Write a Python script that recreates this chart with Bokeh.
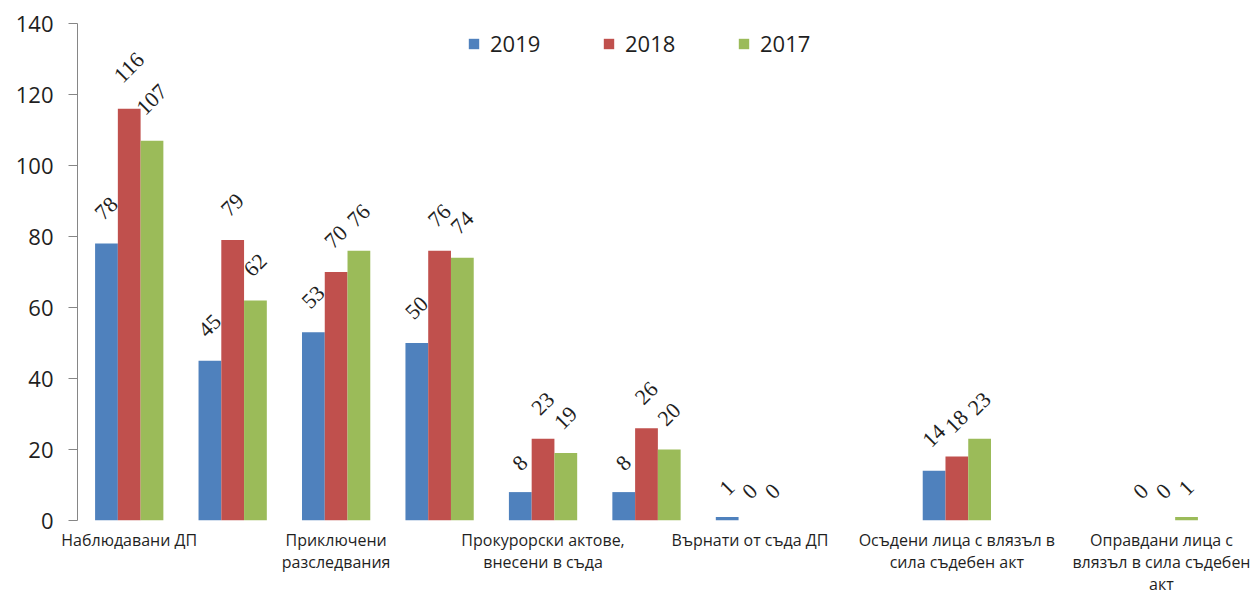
import math
import numpy as np
from bokeh.plotting import figure
from bokeh.models import ColumnDataSource, LabelSet, FixedTicker, Legend, LegendItem
from bokeh.transform import dodge
from bokeh.embed import file_html
from bokeh.resources import INLINE

# ---------------- data ----------------
categories = [
    "Наблюдавани ДП",
    "",
    "Приключени\nразследвания",
    "",
    "Прокурорски актове,\nвнесени в съда",
    "",
    "Върнати от съда ДП",
    "",
    "Осъдени лица с влязъл в\nсила съдебен акт",
    "",
    "Оправдани лица с\nвлязъл в сила съдебен\nакт",
]
series_names = ["2019", "2018", "2017"]
values_2019 = [78, 45, 53, 50, 8, 8, 1, None, 14, None, 0]
values_2018 = [116, 79, 70, 76, 23, 26, 0, None, 18, None, 0]
values_2017 = [107, 62, 76, 74, 19, 20, 0, None, 23, None, 1]
y_ticks = [0, 20, 40, 60, 80, 100, 120, 140]

colors = ["#4F81BD", "#C0504D", "#9BBB59"]
offsets = [-0.22, 0.0, 0.22]
bar_width = 0.22
FONT = "Open Sans"
TEXT_COLOR = "#1f1f1f"

p = figure(
    width=1250, height=597,
    x_range=(-0.5, len(categories) - 0.5), y_range=(0, 140),
    output_backend="svg", toolbar_location=None,
    min_border_left=77, min_border_top=23, min_border_right=35, min_border_bottom=72,
)
p.outline_line_color = None
p.xgrid.visible = False
p.ygrid.visible = False
p.background_fill_color = "white"

items = []
for name, vals, color, off in zip(series_names, [values_2019, values_2018, values_2017], colors, offsets):
    idx = list(range(len(categories)))
    tops = [np.nan if v is None else v for v in vals]
    src = ColumnDataSource(dict(idx=idx, top=tops))
    r = p.vbar(x=dodge("idx", off), top="top", width=bar_width, source=src,
               fill_color=color, line_color=None)
    items.append(LegendItem(label=name, renderers=[r]))

    lab_idx = [i for i, v in zip(idx, vals) if v is not None]
    lab_val = [v for v in vals if v is not None]
    lab_txt = [str(v) for v in lab_val]
    lab_off = [23 + 6 * len(t) for t in lab_txt]
    lsrc = ColumnDataSource(dict(idx=lab_idx, top=lab_val, label=lab_txt, yoff=lab_off))
    p.add_layout(LabelSet(
        x=dodge("idx", off), y="top", text="label", source=lsrc,
        angle=math.pi / 4, text_align="center", text_baseline="middle",
        y_offset="yoff", text_font=FONT, text_font_size="22px", text_color=TEXT_COLOR,
    ))

legend = Legend(items=items, orientation="horizontal", location="top_center",
                glyph_width=13, glyph_height=13, label_standoff=10, spacing=47,
                label_width=65,
                label_text_font=FONT, label_text_font_size="22px", label_text_color=TEXT_COLOR,
                border_line_color=None, background_fill_alpha=0, padding=6, margin=5)
p.add_layout(legend)

# y axis
p.yaxis.ticker = FixedTicker(ticks=y_ticks)
p.yaxis.axis_line_color = "#868686"
p.yaxis.major_tick_line_color = "#868686"
p.yaxis.major_tick_out = 9
p.yaxis.major_tick_in = 0
p.yaxis.minor_tick_line_color = None
p.yaxis.major_label_text_font = FONT
p.yaxis.major_label_text_font_size = "22px"
p.yaxis.major_label_text_color = TEXT_COLOR
p.yaxis.major_label_standoff = 15

# x axis
tick_pos = [i for i, c in enumerate(categories) if c]
p.xaxis.ticker = FixedTicker(ticks=tick_pos)
p.xaxis.major_label_overrides = {i: categories[i] for i in tick_pos}
p.xaxis.axis_line_color = None
p.xaxis.major_tick_line_color = None
p.xaxis.major_tick_out = 0
p.xaxis.major_tick_in = 0
p.xaxis.minor_tick_line_color = None
p.xaxis.major_label_text_font = FONT
p.xaxis.major_label_text_font_size = "16px"
p.xaxis.major_label_text_color = TEXT_COLOR
p.xaxis.major_label_standoff = 8
p.xaxis.major_label_text_line_height = 1.0

open("out.html", "w").write(file_html(p, INLINE))
